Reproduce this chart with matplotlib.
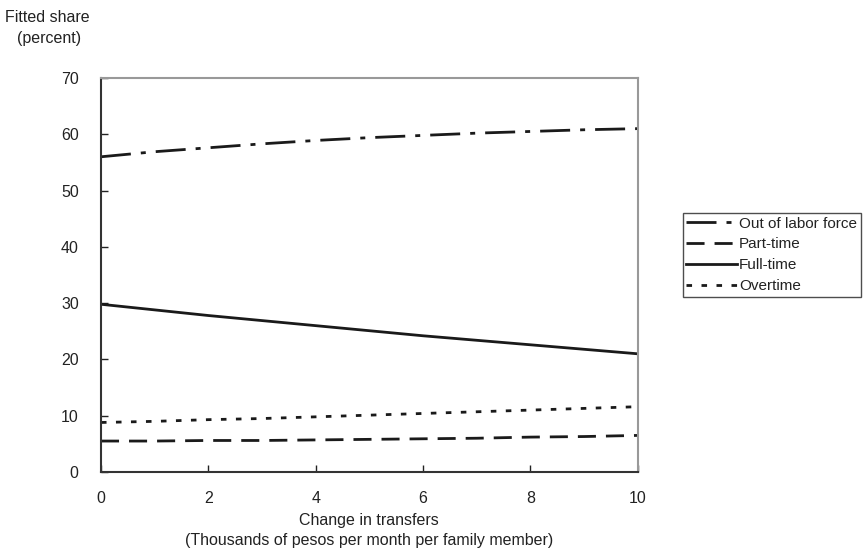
import numpy as np
import matplotlib.pyplot as plt

plt.rcParams['font.family'] = ['Liberation Sans', 'DejaVu Sans']

# data
transfers = [0, 1, 2, 3, 4, 5, 6, 7, 8, 9, 10]
out_of_lf = [56.0, 56.9, 57.6, 58.3, 58.9, 59.4, 59.8, 60.2, 60.5, 60.8, 61.0]
part_time = [5.5, 5.5, 5.6, 5.6, 5.7, 5.8, 5.9, 6.0, 6.2, 6.3, 6.5]
full_time = [29.8, 28.8, 27.8, 26.9, 26.0, 25.1, 24.2, 23.4, 22.6, 21.8, 21.0]
overtime = [8.8, 9.0, 9.3, 9.5, 9.8, 10.1, 10.4, 10.7, 11.0, 11.3, 11.6]

fig = plt.figure(figsize=(8.63, 5.57), dpi=100)
ax = fig.add_axes([0.117, 0.1526, 0.622, 0.7074])

lw = 2
c = '#1a1a1a'
ax.plot(transfers, out_of_lf, color=c, lw=lw, linestyle=(0, (10.8, 3.6, 1.8, 3.6)), label='Out of labor force')
ax.plot(transfers, part_time, color=c, lw=lw, linestyle=(0, (6.5, 3.6)), label='Part-time')
ax.plot(transfers, full_time, color=c, lw=lw, linestyle='-', label='Full-time')
ax.plot(transfers, overtime, color=c, lw=lw, linestyle=(0, (2, 3.4)), label='Overtime')

ax.set_xlim(0, 10)
ax.set_ylim(0, 70)
ax.set_xticks([0, 2, 4, 6, 8, 10])
ax.set_yticks(range(0, 71, 10))
ax.tick_params(direction='in', length=5, width=1, labelsize=11.5, color='#222222', labelcolor='#222222')
ax.tick_params(axis='y', pad=16)
ax.tick_params(axis='x', pad=14)

for s in ['left', 'bottom']:
    ax.spines[s].set_color('#333333')
    ax.spines[s].set_linewidth(1.5)
for s in ['top', 'right']:
    ax.spines[s].set_color('#999999')
    ax.spines[s].set_linewidth(1.5)

fig.text(0.428, 1 - 520 / 557, 'Change in transfers', fontsize=11.5, ha='center', va='center', color='#222222')
fig.text(0.428, 1 - 541 / 557, '(Thousands of pesos per month per family member)', fontsize=11.5,
         ha='center', va='center', color='#222222')
fig.text(47 / 863, 1 - 17 / 557, 'Fitted share', fontsize=11.5, ha='center', va='center', color='#222222')
fig.text(49 / 863, 1 - 38 / 557, '(percent)', fontsize=11.5, ha='center', va='center', color='#222222')

leg = ax.legend(loc='upper left', bbox_to_anchor=(0.791, 0.618), bbox_transform=fig.transFigure,
                frameon=True, fancybox=False, fontsize=11, handlelength=3.3, handletextpad=0.15,
                borderpad=0.25, labelspacing=0.45, borderaxespad=0)
leg.get_frame().set_edgecolor('#222222')
leg.get_frame().set_linewidth(1)
for t in leg.get_texts():
    t.set_color('#222222')

fig.savefig('out.png', dpi=100)
